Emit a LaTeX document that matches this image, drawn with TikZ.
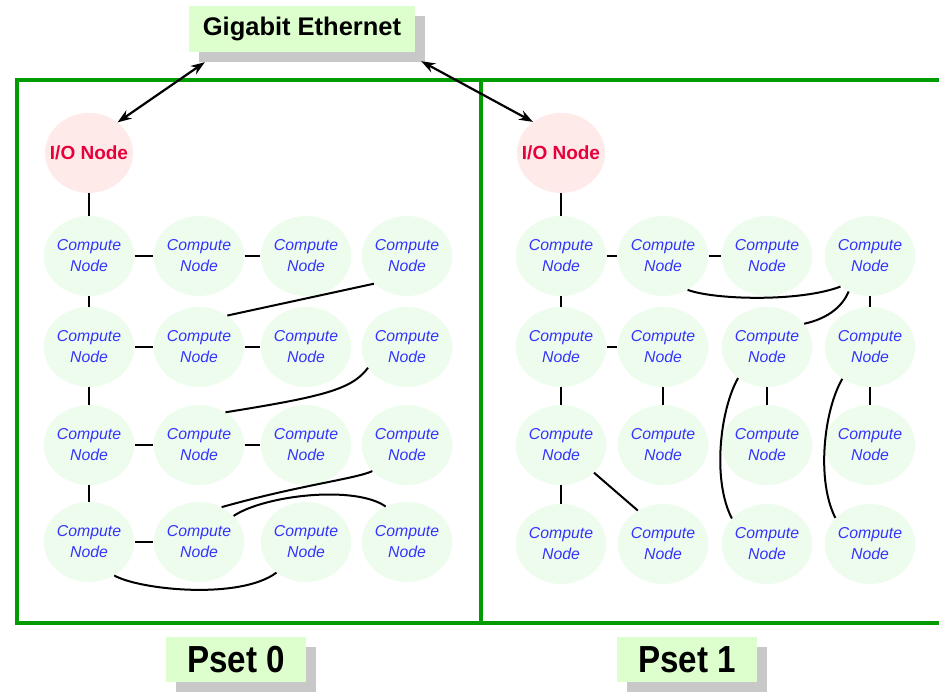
\documentclass[tikz,border=0pt]{standalone}
\usepackage{fontspec}
\setmainfont{Liberation Sans}
\newfontfamily\psetfont[FakeStretch=0.88]{Liberation Sans}
\usetikzlibrary{shapes.geometric,arrows.meta,shadows}
\definecolor{boxgreen}{RGB}{0,155,0}
\definecolor{cfill}{RGB}{238,252,238}
\definecolor{iofill}{RGB}{255,234,234}
\definecolor{tagfill}{RGB}{221,255,206}
\definecolor{shadowgray}{RGB}{200,200,200}
\definecolor{cblue}{RGB}{51,51,255}
\definecolor{iored}{RGB}{230,0,60}
\begin{document}
\begin{tikzpicture}[x=1pt,y=-1pt,
  cnode/.style={ellipse, fill=cfill, minimum width=88pt, minimum height=80pt, inner sep=0pt,
    align=center, font=\fontsize{15.8}{21}\selectfont\itshape, text=cblue},
  ionode/.style={ellipse, fill=iofill, minimum width=88pt, minimum height=80pt, inner sep=0pt,
    font=\fontsize{19}{22}\selectfont\bfseries, text=iored},
  tagbox/.style={fill=tagfill, inner sep=0pt,
    drop shadow={shadow xshift=10pt, shadow yshift=-10pt, fill=shadowgray, opacity=1}},
  psettag/.style={tagbox, minimum width=140pt, minimum height=45pt,
    font=\psetfont\bfseries\fontsize{37.7}{40}\selectfont},
  link/.style={line width=2pt, black},
  pbox/.style={draw=boxgreen, line width=4.5pt},
  darrow/.style={line width=2.2pt, {Stealth[length=14pt,width=10pt]}-{Stealth[length=14pt,width=10pt]}}
]
\useasboundingbox (0,0) rectangle (939,696);

% Pset frames
\draw[pbox] (17,80) rectangle (481,623);
\draw[pbox] (481,80) -- (939,80);
\draw[pbox] (481,623) -- (939,623);

% labels
\node[tagbox, minimum width=226pt, minimum height=46pt,
  font=\fontsize{25.5}{28}\selectfont\bfseries] (ge) at (302,29) {Gigabit Ethernet};
\node[psettag] (p0) at (236,659.5) {Pset 0};
\node[psettag] (p1) at (687,659.5) {Pset 1};

% I/O nodes
\node[ionode] (LIO) at (89,153) {\makebox[0pt]{I/O Node}};
\node[ionode] (RIO) at (561,153) {\makebox[0pt]{I/O Node}};

% compute nodes
\foreach \r/\y in {1/256,2/347,3/445,4/542}
  \foreach \c/\x in {1/89,2/199,3/306,4/407}
    \node[cnode] (L\r\c) at (\x,\y) {Compute\\Node};
\foreach \r/\y in {1/256,2/347,3/445,4/544}
  \foreach \c/\x in {1/561,2/663,3/767,4/870}
    \node[cnode] (R\r\c) at (\x,\y) {Compute\\Node};

% Ethernet arrows
\coordinate (geA) at ([shift={(16pt,-10pt)}]ge.south west);
\coordinate (geB) at ([shift={(6pt,-9pt)}]ge.south east);
\draw[darrow] (geA) -- (LIO.47);
\draw[darrow] (geB) -- (RIO.132);

% Pset 0 links
\draw[link] (LIO) -- (L11);
\draw[link] (L11) -- (L12);
\draw[link] (L12) -- (L13);
\draw[link] (L21) -- (L22);
\draw[link] (L22) -- (L23);
\draw[link] (L31) -- (L32);
\draw[link] (L32) -- (L33);
\draw[link] (L41) -- (L42);
\draw[link] (L11) -- (L21);
\draw[link] (L21) -- (L31);
\draw[link] (L31) -- (L41);
\draw[link] (L14.220) -- (L22.48);
\draw[link] (L24.208) .. controls (352,390) and (320,397) .. (L32.51);
\draw[link] (L34.217) .. controls (355,479) and (300,485) .. (L42.57);
\draw[link] (L42.37) .. controls (265,495) and (355,485) .. (L44.121);
\draw[link] (L41.307) .. controls (140,590) and (240,600) .. (L43.226);

% Pset 1 links
\draw[link] (RIO) -- (R11);
\draw[link] (R11) -- (R12);
\draw[link] (R12) -- (R13);
\draw[link] (R21) -- (R22);
\draw[link] (R11) -- (R21);
\draw[link] (R14) -- (R24);
\draw[link] (R21) -- (R31);
\draw[link] (R22) -- (R32);
\draw[link] (R23) -- (R33);
\draw[link] (R24) -- (R34);
\draw[link] (R31) -- (R41);
\draw[link] (R31.320) -- (R42.127);
\draw[link] (R12.306) .. controls (715,300) and (800,302) .. (R14.226);
\draw[link] (R14.239) .. controls (843,305) and (830,318) .. (R23.32);
\draw[link] (R23.227) .. controls (720,410) and (712,480) .. (R43.144);
\draw[link] (R24.229) .. controls (824,410) and (816,480) .. (R44.143);
\end{tikzpicture}
\end{document}
